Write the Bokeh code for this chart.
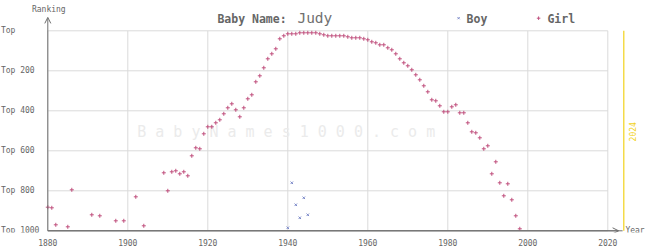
import math
from bokeh.plotting import figure
from bokeh.models import Range1d, FixedTicker, Arrow, OpenHead
from bokeh.core.properties import value
from bokeh.embed import file_html
from bokeh.resources import INLINE

# ---- data ----
girl_years = [1880, 1881, 1882, 1885, 1886, 1891, 1893, 1897, 1899, 1902, 1904,
              1909, 1910, 1911, 1912, 1913, 1914, 1915, 1916, 1917, 1918, 1919,
              1920, 1921, 1922, 1923, 1924, 1925, 1926, 1927, 1928, 1929, 1930,
              1931, 1932, 1933, 1934, 1935, 1936, 1937, 1938, 1939, 1940, 1941,
              1942, 1943, 1944, 1945, 1946, 1947, 1948, 1949, 1950, 1951, 1952,
              1953, 1954, 1955, 1956, 1957, 1958, 1959, 1960, 1961, 1962, 1963,
              1964, 1965, 1966, 1967, 1968, 1969, 1970, 1971, 1972, 1973, 1974,
              1975, 1976, 1977, 1978, 1979, 1980, 1981, 1982, 1983, 1984, 1985,
              1986, 1987, 1988, 1989, 1990, 1991, 1992, 1993, 1994, 1995, 1996,
              1997, 1998]
girl_ranks = [882, 885, 970, 980, 795, 920, 925, 950, 950, 830, 975,
              710, 800, 705, 700, 715, 705, 725, 625, 585, 590, 515,
              480, 480, 460, 445, 415, 385, 365, 395, 430, 385, 340,
              320, 255, 225, 185, 140, 115, 90, 40, 25, 15, 15,
              15, 10, 10, 10, 10, 10, 15, 20, 25, 25, 25,
              25, 25, 30, 35, 35, 35, 40, 45, 55, 60, 70,
              70, 85, 95, 115, 140, 160, 175, 195, 220, 245, 275,
              305, 345, 350, 375, 405, 405, 380, 370, 410, 410, 460,
              505, 510, 535, 590, 575, 715, 655, 760, 825, 765, 845,
              925, 990]
boy_years = [1940, 1941, 1942, 1943, 1944, 1945]
boy_ranks = [985, 760, 870, 935, 835, 920]

x_ticks = [1880, 1900, 1920, 1940, 1960, 1980, 2000, 2020]
y_ticks = [0, 200, 400, 600, 800, 1000]
y_tick_labels = ["Top", "Top 200", "Top 400", "Top 600", "Top 800", "Top 1000"]
current_year = 2024
name = "Judy"

FONT = "DejaVu Sans Mono"
AXIS_C = "#6e6e6e"
GRID_C = "#dadada"
TEXT_C = "#666666"
GIRL_C = "#c0507e"
BOY_C = "#7a88c8"
YEL_C = "#f2d21c"

x0, x1 = x_ticks[0], x_ticks[-1]
y0, y1 = y_ticks[0], y_ticks[-1]

X_START, X_END = 1868.175, 2029.425

p = figure(width=645, height=250, output_backend="svg", toolbar_location=None,
           x_range=Range1d(X_START, X_END), y_range=Range1d(1008.5, -151.5),
           y_axis_location=None,
           min_border_left=0, min_border_right=0, min_border_top=0, min_border_bottom=18)
p.outline_line_color = None
p.xgrid.visible = False
p.ygrid.visible = False
p.background_fill_color = "white"

ax = p.xaxis[0]
ax.axis_line_color = None
ax.major_tick_line_color = None
ax.minor_tick_line_color = None
ax.major_tick_out = 0
ax.major_tick_in = 0
ax.minor_tick_out = 0
ax.minor_tick_in = 0
ax.major_label_text_font = FONT
ax.major_label_text_font_size = "8px"
ax.major_label_text_color = TEXT_C
ax.ticker = FixedTicker(ticks=x_ticks)
ax.major_label_standoff = 6

# y tick labels (left aligned at the canvas edge)
p.text(x=[X_START + 0.1] * len(y_ticks), y=y_ticks, text=y_tick_labels,
       text_font=value(FONT), text_font_size="8px", text_color=TEXT_C,
       text_align="left", text_baseline="middle")

# grid lines
p.segment(x0=x_ticks, y0=[y0] * len(x_ticks), x1=x_ticks, y1=[y1] * len(x_ticks),
          line_color=GRID_C, line_width=1)
p.segment(x0=[x0] * len(y_ticks), y0=y_ticks, x1=[x1] * len(y_ticks), y1=y_ticks,
          line_color=GRID_C, line_width=1)

# watermark
p.text(x=[1939.6], y=[505], text=["B a b y N a m e s 1 0 0 0 . c o m"],
       text_font=value(FONT), text_font_size="15px", text_color="#ebebeb",
       text_align="center", text_baseline="middle")

# current year line
p.segment(x0=[current_year], y0=[y0], x1=[current_year], y1=[y1], line_color=YEL_C, line_width=1.2)
p.text(x=[current_year + 2.1], y=[505], text=[str(current_year)], angle=math.pi / 2,
       text_font=value(FONT), text_font_size="8px", text_color=YEL_C,
       text_align="center", text_baseline="middle")

# axes lines with arrows
p.segment(x0=[x0], y0=[y1], x1=[2023.7], y1=[y1], line_color=AXIS_C, line_width=1)
p.add_layout(Arrow(end=OpenHead(size=6, line_color=AXIS_C, line_width=1),
                   x_start=x0, y_start=y1, x_end=2022.7, y_end=y1,
                   line_color=AXIS_C, line_width=1))
p.add_layout(Arrow(end=OpenHead(size=6, line_color=AXIS_C, line_width=1),
                   x_start=x0, y_start=y1, x_end=x0, y_end=-67,
                   line_color=AXIS_C, line_width=1))
p.text(x=[2024.4], y=[y1], text=["Year"], text_font=value(FONT), text_font_size="8px",
       text_color=TEXT_C, text_align="left", text_baseline="middle")
p.text(x=[1880.25], y=[-105], text=["Ranking"], text_font=value(FONT), text_font_size="8px",
       text_color=TEXT_C, text_align="center", text_baseline="middle")

# title and legend
p.text(x=[1922.4], y=[-60], text=["Baby Name:"], text_font=value(FONT), text_font_size="11.5px",
       text_font_style="bold", text_color=TEXT_C, text_align="left", text_baseline="middle")
p.text(x=[1942.4], y=[-62], text=[name], text_font=value(FONT), text_font_size="14.5px",
       text_color="#707070", text_align="left", text_baseline="middle")
p.scatter(x=[1982.7], y=[-63], marker="x", size=3, line_color=BOY_C, line_width=1)
p.text(x=[1984.7], y=[-60], text=["Boy"], text_font=value(FONT), text_font_size="11.5px",
       text_font_style="bold", text_color=TEXT_C, text_align="left", text_baseline="middle")
p.scatter(x=[2002.7], y=[-63], marker="cross", size=3.5, line_color=GIRL_C, line_width=1)
p.text(x=[2004.9], y=[-60], text=["Girl"], text_font=value(FONT), text_font_size="11.5px",
       text_font_style="bold", text_color=TEXT_C, text_align="left", text_baseline="middle")

# data
p.scatter(x=boy_years, y=boy_ranks, marker="x", size=3.5, line_color=BOY_C, line_width=1)
p.scatter(x=girl_years, y=girl_ranks, marker="cross", size=4, line_color=GIRL_C, line_width=1)

open("out.html", "w").write(file_html(p, INLINE))
